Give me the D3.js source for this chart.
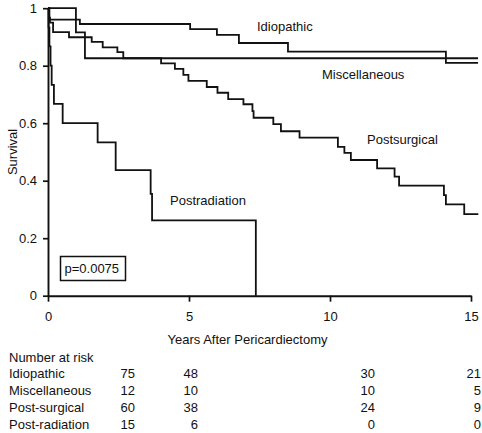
<!DOCTYPE html>
<html>
<head>
<meta charset="utf-8">
<script src="https://cdn.jsdelivr.net/npm/d3@7"></script>
<style>
  html, body { margin: 0; padding: 0; background: #fff; }
  svg text { font-family: "Liberation Sans", Arial, Helvetica, sans-serif; fill: #111; }
</style>
</head>
<body>
<svg id="chart" width="482" height="433"></svg>
<script>
// ---- data (Kaplan-Meier steps: [years, survival]) ----
const idiopathic = [[0,1],[0.05,0.96],[1.13,0.945],[5.04,0.927],[5.99,0.907],[6.77,0.879],[8.51,0.849],[14.11,0.81],[15.25,0.81]];
const miscellaneous = [[0,1],[0.99,0.916],[1.31,0.826],[15.25,0.826]];
const postsurgical = [[0,1],[0.03,0.967],[0.07,0.95],[0.18,0.917],[0.745,0.899],[1.55,0.883],[1.94,0.864],[2.46,0.847],[2.67,0.826],[4.01,0.808],[4.5,0.789],[4.8,0.768],[4.98,0.747],[5.63,0.726],[6.01,0.706],[6.39,0.684],[6.93,0.666],[7.25,0.642],[7.29,0.619],[7.99,0.597],[8.26,0.572],[8.92,0.55],[10.28,0.518],[10.51,0.497],[10.74,0.472],[11.67,0.443],[12.29,0.414],[12.45,0.383],[14.04,0.35],[14.11,0.318],[14.76,0.284],[15.26,0.284]];
const postradiation = [[0,1],[0.02,0.933],[0.05,0.867],[0.09,0.8],[0.13,0.733],[0.21,0.667],[0.52,0.6],[1.76,0.533],[2.4,0.437],[3.64,0.354],[3.69,0.262],[7.37,0],[7.37,0]];

const seriesNames = ["Idiopathic", "Miscellaneous", "Postsurgical", "Postradiation"];
const xTicks = [0, 5, 10, 15];
const yTicks = [0, 0.2, 0.4, 0.6, 0.8, 1];
const yTickLabels = ["0", "0.2", "0.4", "0.6", "0.8", "1"];

const riskTitle = "Number at risk";
const riskGroups = ["Idiopathic", "Miscellaneous", "Post-surgical", "Post-radiation"];
const riskIdiopathic = [75, 48, 30, 21];
const riskMiscellaneous = [12, 10, 10, 5];
const riskPostsurgical = [60, 38, 24, 9];
const riskPostradiation = [15, 6, 0, 0];
const pValueText = "p=0.0075";

// ---- drawing ----
const svg = d3.select("#chart");
const FS = 13;
const x = d3.scaleLinear().domain([0, 15]).range([48, 471]);
const y = d3.scaleLinear().domain([0, 1]).range([295.7, 8.2]);

const line = d3.line().x(d => x(d[0])).y(d => y(d[1])).curve(d3.curveStepAfter);
const allSeries = [idiopathic, miscellaneous, postsurgical, postradiation];
svg.append("g").selectAll("path").data(allSeries).join("path")
  .attr("d", line).attr("fill", "none").attr("stroke", "#111")
  .attr("stroke-width", 1.8).attr("stroke-linejoin", "miter");

// y axis
const yAxis = svg.append("g").attr("transform", `translate(${x(0)},0)`)
  .call(d3.axisLeft(y).tickValues(yTicks).tickFormat((d, i) => yTickLabels[i])
        .tickSize(5).tickSizeOuter(0).tickPadding(6));
// x axis
const xAxis = svg.append("g").attr("transform", `translate(0,${y(0)})`)
  .call(d3.axisBottom(x).tickValues(xTicks).tickFormat(d3.format("d"))
        .tickSize(6).tickSizeOuter(0).tickPadding(10));
[yAxis, xAxis].forEach(g => {
  g.select(".domain").attr("stroke", "#111").attr("stroke-width", 1.9);
  g.selectAll(".tick line").attr("stroke", "#111").attr("stroke-width", 1.7);
  g.selectAll(".tick text").attr("font-size", FS).attr("font-family", "Liberation Sans, Arial, sans-serif").attr("fill", "#111");
});

// axis titles
svg.append("text").attr("transform", `translate(17,${(y(0) + y(1)) / 2}) rotate(-90)`)
  .attr("text-anchor", "middle").attr("font-size", FS).text("Survival");
svg.append("text").attr("x", 247.5).attr("y", 344).attr("text-anchor", "middle")
  .attr("font-size", FS).text("Years After Pericardiectomy");

// curve labels
const labelPos = [[257, 31], [322, 79], [367, 144], [170, 205]];
svg.append("g").selectAll("text").data(seriesNames).join("text")
  .attr("x", (d, i) => labelPos[i][0]).attr("y", (d, i) => labelPos[i][1])
  .attr("font-size", FS).text(d => d);

// p-value box
svg.append("rect").attr("x", 60.5).attr("y", 256.5).attr("width", 65).attr("height", 24)
  .attr("fill", "#fff").attr("stroke", "#111").attr("stroke-width", 1.5);
svg.append("text").attr("x", 64.5).attr("y", 273).attr("font-size", FS).text(pValueText);

// number at risk table
svg.append("text").attr("x", 9).attr("y", 362).attr("font-size", FS).text(riskTitle);
const riskRows = [riskIdiopathic, riskMiscellaneous, riskPostsurgical, riskPostradiation];
const colRight = [135, 198, 375, 481];
const rowBase = [377.5, 394.7, 411.9, 429];
riskGroups.forEach((g, r) => {
  svg.append("text").attr("x", 9).attr("y", rowBase[r]).attr("font-size", FS).text(g);
  svg.append("g").selectAll("text").data(riskRows[r]).join("text")
    .attr("x", (d, i) => colRight[i]).attr("y", rowBase[r]).attr("text-anchor", "end")
    .attr("font-size", FS).text(d => d);
});
</script>
</body>
</html>
